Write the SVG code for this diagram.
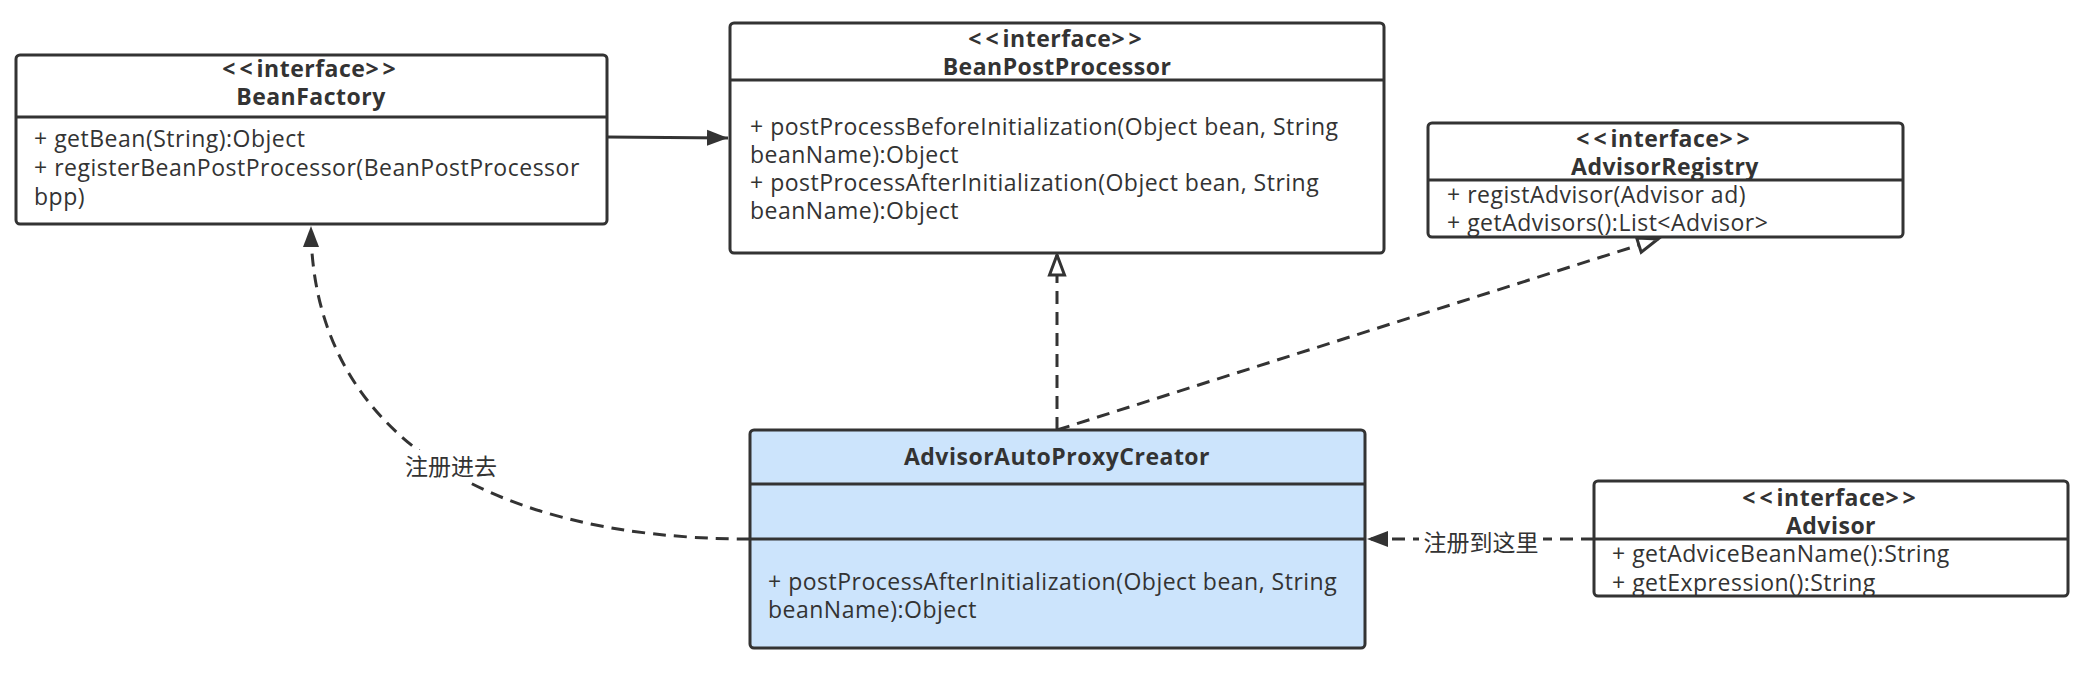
<svg xmlns="http://www.w3.org/2000/svg" width="2092" height="681" viewBox="0 0 2092 681">
<style>
.box{fill:#ffffff;stroke:#333333;stroke-width:3}
.blue{fill:#cce4fc}
.div{stroke:#333333;stroke-width:3}
.t{font-family:"Open Sans","Noto Sans","Noto Sans CJK SC",sans-serif;font-size:23px;letter-spacing:0.5px;fill:#333333}
.b{font-weight:bold;text-anchor:middle}
.br{letter-spacing:4px}
.lbl{font-family:"Noto Sans CJK SC","Noto Sans",sans-serif;font-size:23px;fill:#333333;text-anchor:middle}
.c{fill:none;stroke:#333333;stroke-width:3}
.d{stroke-dasharray:13 8}
</style>
<defs>
<marker id="fill" markerWidth="24" markerHeight="20" refX="21" refY="10" orient="auto" markerUnits="userSpaceOnUse">
<path d="M0,2 L21,10 L0,18 Z" fill="#333333"/>
</marker>
<marker id="hollow" markerWidth="26" markerHeight="20" refX="22" refY="10" orient="auto" markerUnits="userSpaceOnUse">
<path d="M2,2.5 L22,10 L2,17.5 Z" fill="#ffffff" stroke="#333333" stroke-width="3"/>
</marker>
</defs>
<rect width="2092" height="681" fill="#ffffff"/>
<g id="connectors">
<path class="c" d="M607,137 L728,138" marker-end="url(#fill)"/>
<path class="c d" d="M1057,430 L1057,255" marker-end="url(#hollow)"/>
<path class="c d" d="M1057,430 L1658,239" marker-end="url(#hollow)"/>
<path class="c d" d="M750,539 C475,539 311,425 311,226" marker-end="url(#fill)"/>
<path class="c d" d="M1594,539 L1367,539" marker-end="url(#fill)"/>
<rect x="400" y="450" width="102" height="32" fill="#ffffff"/>
<text class="lbl" x="451" y="475">注册进去</text>
<rect x="1419" y="526" width="124" height="30" fill="#ffffff"/>
<text class="lbl" x="1481" y="551">注册到这里</text>
</g>
<g id="BeanFactory">
<rect class="box" x="16" y="55" width="591" height="169" rx="4"/>
<line class="div" x1="16" y1="117" x2="607" y2="117"/>
<text class="t b" x="311" y="77"><tspan class="br">&lt;&lt;</tspan>interface<tspan class="br">&gt;&gt;</tspan></text>
<text class="t b" x="311" y="105">BeanFactory</text>
<text class="t" x="34" y="147">+ getBean(String):Object</text>
<text class="t" x="34" y="176">+ registerBeanPostProcessor(BeanPostProcessor</text>
<text class="t" x="34" y="205">bpp)</text>
</g>
<g id="BeanPostProcessor">
<rect class="box" x="730" y="23" width="654" height="230" rx="4"/>
<line class="div" x1="730" y1="80" x2="1384" y2="80"/>
<text class="t b" x="1057" y="47"><tspan class="br">&lt;&lt;</tspan>interface<tspan class="br">&gt;&gt;</tspan></text>
<text class="t b" x="1057" y="75">BeanPostProcessor</text>
<text class="t" x="750" y="135">+ postProcessBeforeInitialization(Object bean, String</text>
<text class="t" x="750" y="163">beanName):Object</text>
<text class="t" x="750" y="191">+ postProcessAfterInitialization(Object bean, String</text>
<text class="t" x="750" y="219">beanName):Object</text>
</g>
<g id="AdvisorRegistry">
<rect class="box" x="1428" y="123" width="475" height="114" rx="4"/>
<line class="div" x1="1428" y1="180" x2="1903" y2="180"/>
<text class="t b" x="1665" y="147"><tspan class="br">&lt;&lt;</tspan>interface<tspan class="br">&gt;&gt;</tspan></text>
<text class="t b" x="1665" y="175">AdvisorRegistry</text>
<text class="t" x="1447" y="203">+ registAdvisor(Advisor ad)</text>
<text class="t" x="1447" y="231">+ getAdvisors():List&lt;Advisor&gt;</text>
</g>
<g id="AdvisorAutoProxyCreator">
<rect class="box blue" x="750" y="430" width="615" height="218" rx="4"/>
<line class="div" x1="750" y1="484" x2="1365" y2="484"/>
<line class="div" x1="750" y1="539" x2="1365" y2="539"/>
<text class="t b" x="1057" y="465">AdvisorAutoProxyCreator</text>
<text class="t" x="768" y="590">+ postProcessAfterInitialization(Object bean, String</text>
<text class="t" x="768" y="618">beanName):Object</text>
</g>
<g id="Advisor">
<rect class="box" x="1594" y="481" width="474" height="115" rx="4"/>
<line class="div" x1="1594" y1="539" x2="2068" y2="539"/>
<text class="t b" x="1831" y="506"><tspan class="br">&lt;&lt;</tspan>interface<tspan class="br">&gt;&gt;</tspan></text>
<text class="t b" x="1831" y="534">Advisor</text>
<text class="t" x="1612" y="562">+ getAdviceBeanName():String</text>
<text class="t" x="1612" y="591">+ getExpression():String</text>
</g>
</svg>
